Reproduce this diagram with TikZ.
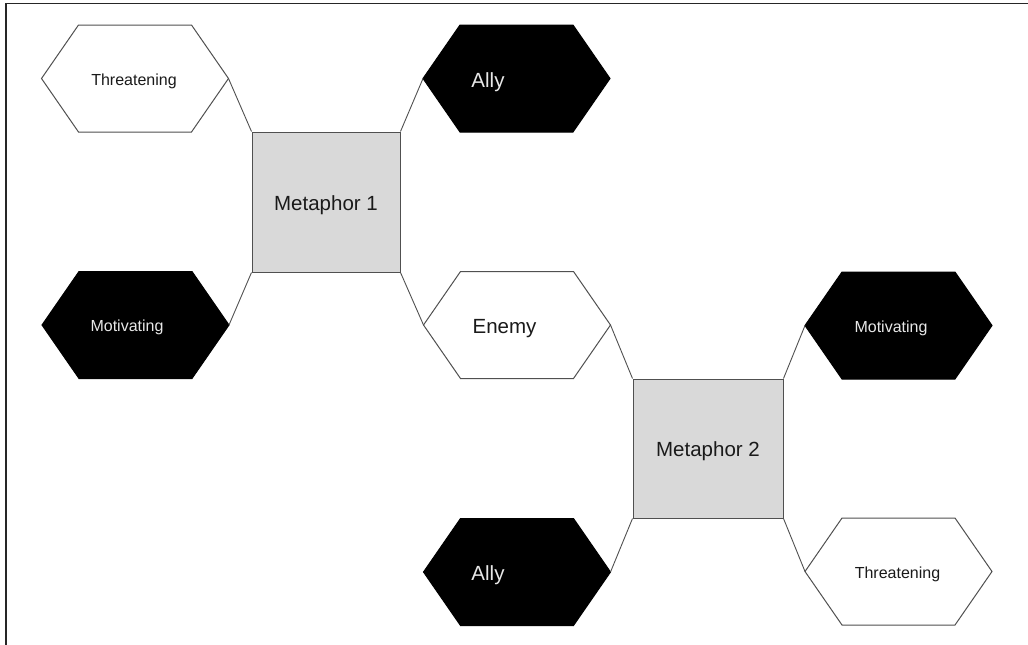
\documentclass[tikz,border=0pt]{standalone}
\usepackage{fontspec}
\setmainfont{Liberation Sans}
\definecolor{linegray}{HTML}{505050}
\definecolor{boxgray}{HTML}{D9D9D9}
\definecolor{lighttxt}{HTML}{E8E8E8}
\definecolor{darktxt}{HTML}{1A1A1A}
\newcommand\hexa[4]{%
  \path[#4] (#2,#3) ++(-93.5,0) coordinate (#1-w) -- ++(37,-53.5) -- ++(113,0)
    -- ++(37,53.5) coordinate (#1-e) -- ++(-37,53.5) -- ++(-113,0) -- cycle;}
\begin{document}
\begin{tikzpicture}[x=1pt,y=-1pt,
  whitehex/.style={draw=linegray, fill=white, line width=1pt},
  blackhex/.style={draw=black, fill=black, line width=1pt},
  conn/.style={draw=linegray, line width=0.9pt},
  frameline/.style={draw=black!85, line width=1.5pt},
  smalltxt/.style={font=\fontsize{16}{18}\selectfont, inner sep=0pt, anchor=base},
  bigtxt/.style={font=\fontsize{20.5}{24}\selectfont, inner sep=0pt, anchor=base},
  metabox/.style={draw=linegray, fill=boxgray, line width=1pt, inner sep=0pt,
    minimum width=148pt, minimum height=140pt, text=darktxt,
    font=\fontsize{20.5}{24}\selectfont, text height=16pt, text depth=0pt}]
\useasboundingbox (0,0) rectangle (1028,645);
% frame
\coordinate (ftr) at (1028,3.5);
\coordinate (ftl) at (6,3.5);
\coordinate (fbl) at (6,645);
\draw[frameline] (ftr) -- (ftl) -- (fbl);
% metaphor boxes
\node[metabox] (m1) at (326,202) {Metaphor 1};
\node[metabox, minimum width=150pt, minimum height=139pt] (m2) at (708,448.5) {Metaphor 2};
% hexagons
\hexa{t1}{135}{78.5}{whitehex}
\hexa{a1}{516.5}{78.5}{blackhex}
\hexa{mo1}{135.5}{325}{blackhex}
\hexa{en}{517}{325}{whitehex}
\hexa{mo2}{898.5}{325.5}{blackhex}
\hexa{a2}{517}{572}{blackhex}
\hexa{t2}{898.5}{571.5}{whitehex}
% labels
\node[smalltxt, text=darktxt] (t1t) at (134,85) {Threatening};
\node[bigtxt, text=lighttxt] (a1t) at (488,87) {Ally};
\node[smalltxt, text=lighttxt] (mo1t) at (127,331.5) {Motivating};
\node[bigtxt, text=darktxt] (ent) at (504.5,333) {Enemy};
\node[smalltxt, text=lighttxt] (mo2t) at (891,332) {Motivating};
\node[bigtxt, text=lighttxt] (a2t) at (488,580) {Ally};
\node[smalltxt, text=darktxt] (t2t) at (897.5,578.5) {Threatening};
% connectors
\draw[conn] (t1-e) -- (m1.north west);
\draw[conn] (a1-w) -- (m1.north east);
\draw[conn] (mo1-e) -- (m1.south west);
\draw[conn] (en-w) -- (m1.south east);
\draw[conn] (en-e) -- (m2.north west);
\draw[conn] (mo2-w) -- (m2.north east);
\draw[conn] (a2-e) -- (m2.south west);
\draw[conn] (t2-w) -- (m2.south east);
\end{tikzpicture}
\end{document}
